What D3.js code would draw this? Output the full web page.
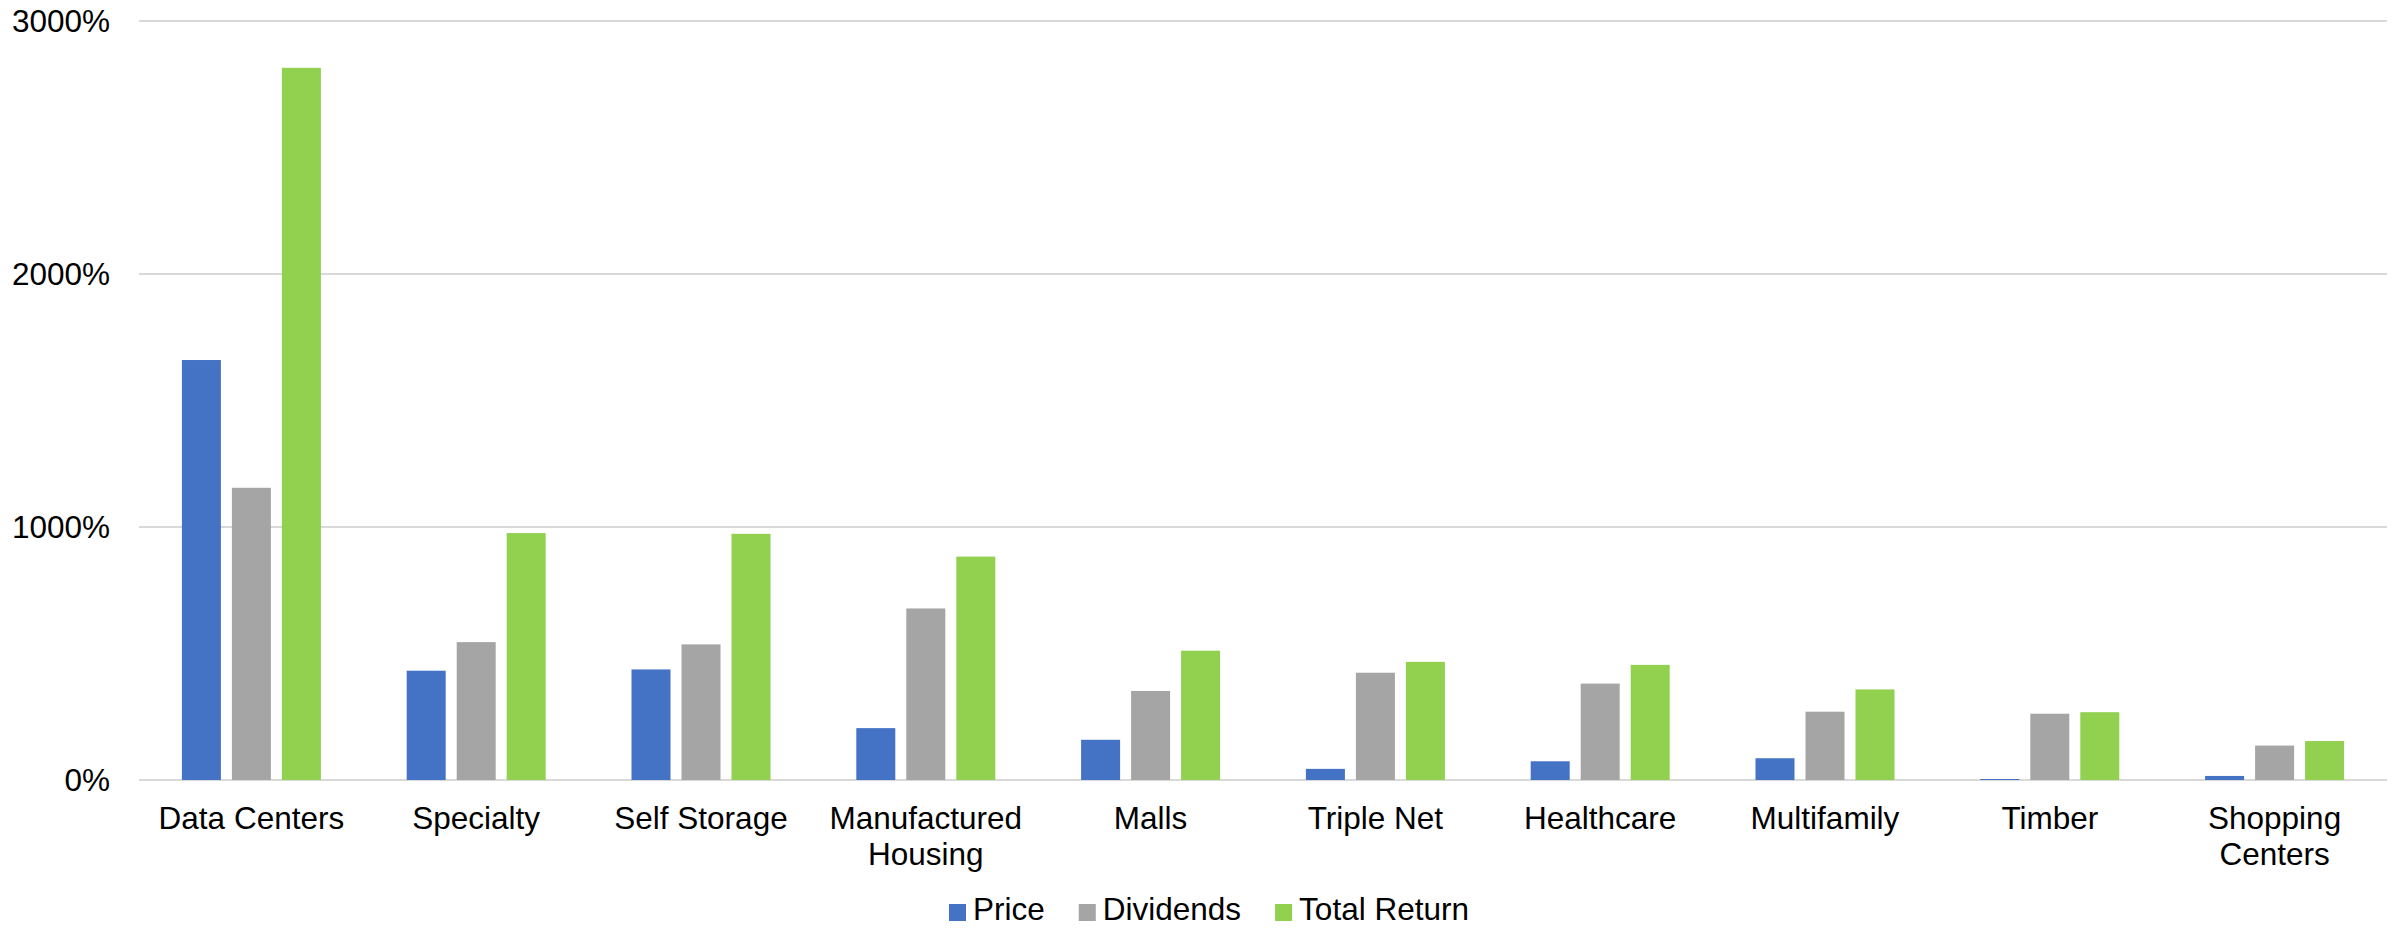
<!DOCTYPE html>
<html>
<head>
<meta charset="utf-8">
<script src="https://cdn.jsdelivr.net/npm/d3@7"></script>
<style>
  html, body { margin: 0; padding: 0; background: #fff; }
  svg { display: block; }
  text { font-family: "Liberation Sans", Arial, sans-serif; fill: #000; }
</style>
</head>
<body>
<svg id="chart" width="2399" height="928"></svg>
<script>
// REIT sector cumulative returns (%)
const categories = ["Data Centers", "Specialty", "Self Storage", "Manufactured Housing", "Malls",
                    "Triple Net", "Healthcare", "Multifamily", "Timber", "Shopping Centers"];
const categoryLines = [["Data Centers"], ["Specialty"], ["Self Storage"], ["Manufactured", "Housing"], ["Malls"],
                       ["Triple Net"], ["Healthcare"], ["Multifamily"], ["Timber"], ["Shopping", "Centers"]];
const seriesNames = ["Price", "Dividends", "Total Return"];
const priceValues = [1660, 432, 437, 205, 159, 44, 74, 86, 4, 16];
const dividendValues = [1155, 545, 536, 678, 352, 424, 381, 270, 262, 136];
const totalReturnValues = [2815, 976, 973, 883, 511, 467, 455, 358, 268, 154];
const yTicks = [0, 1000, 2000, 3000];
const seriesColors = ["#4472C4", "#A5A5A5", "#92D050"];

const seriesValues = [priceValues, dividendValues, totalReturnValues];
const svg = d3.select("#chart");

const plot = { left: 139, right: 2387, top: 21, bottom: 780 };
const fontSize = 31.5;

const x0 = d3.scaleBand().domain(categories).range([plot.left, plot.right]).paddingInner(0).paddingOuter(0);
const x1 = d3.scaleBand().domain(seriesNames).range([-69.5, 69.5]).paddingInner(0.22).paddingOuter(0);
const y = d3.scaleLinear().domain([0, 3000]).range([plot.bottom, plot.top]);

// horizontal gridlines
svg.append("g")
  .selectAll("line")
  .data(yTicks)
  .join("line")
  .attr("x1", plot.left)
  .attr("x2", plot.right)
  .attr("y1", d => y(d))
  .attr("y2", d => y(d))
  .attr("stroke", "#D9D9D9")
  .attr("stroke-width", 2);

// y-axis labels
svg.append("g")
  .selectAll("text")
  .data(yTicks)
  .join("text")
  .attr("x", 110)
  .attr("y", d => y(d))
  .attr("dy", "0.36em")
  .attr("text-anchor", "end")
  .attr("font-size", fontSize)
  .text(d => d + "%");

// grouped bars
const groups = svg.append("g")
  .selectAll("g")
  .data(categories)
  .join("g")
  .attr("transform", d => `translate(${x0(d) + x0.bandwidth() / 2},0)`);

groups.selectAll("rect")
  .data((d, i) => seriesNames.map((s, k) => ({ series: s, k, value: seriesValues[k][i] })))
  .join("rect")
  .attr("x", d => x1(d.series))
  .attr("width", x1.bandwidth())
  .attr("y", d => y(d.value))
  .attr("height", d => y(0) - y(d.value))
  .attr("fill", d => seriesColors[d.k]);

// category labels
const catLabels = svg.append("g")
  .selectAll("text")
  .data(categories)
  .join("text")
  .attr("x", d => x0(d) + x0.bandwidth() / 2)
  .attr("y", 829)
  .attr("text-anchor", "middle")
  .attr("font-size", fontSize);

catLabels.each(function (d, i) {
  const t = d3.select(this);
  categoryLines[i].forEach((line, j) => {
    t.append("tspan")
      .attr("x", x0(d) + x0.bandwidth() / 2)
      .attr("dy", j === 0 ? 0 : 36)
      .text(line);
  });
});

// legend
const legend = svg.append("g");
let lx = 949;
seriesNames.forEach((name, k) => {
  legend.append("rect")
    .attr("x", lx)
    .attr("y", 904)
    .attr("width", 17)
    .attr("height", 17)
    .attr("fill", seriesColors[k]);
  const t = legend.append("text")
    .attr("x", lx + 24)
    .attr("y", 920)
    .attr("font-size", fontSize)
    .text(name);
  lx += 24 + t.node().getComputedTextLength() + 34;
});
</script>
</body>
</html>
